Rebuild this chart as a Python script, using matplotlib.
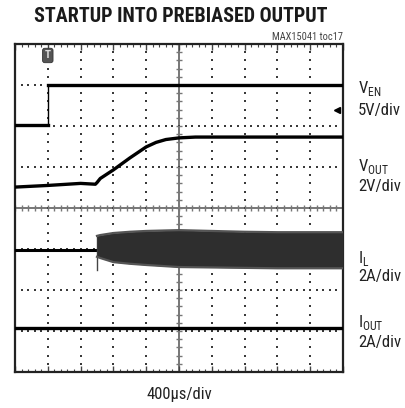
#
# plot.py - scope capture: startup into prebiased output
#
import numpy as np
import matplotlib
matplotlib.use("Agg")
import matplotlib.pyplot as plt

NARROW = ["Roboto Condensed", "Liberation Sans Narrow", "Liberation Sans", "DejaVu Sans"]
plt.rcParams["font.family"] = NARROW
plt.rcParams["mathtext.fontset"] = "custom"
plt.rcParams["mathtext.rm"] = "Roboto Condensed"

# traces, in screen divisions (x: 0..10, y: -4..4)
ven_t = [0.0, 1.0, 1.0, 10.0]
ven_v = [2.02, 2.02, 3.0, 3.0]

vout_t = [0.0, 1.0, 2.0, 2.45, 2.5, 2.6, 3.0, 3.5, 4.0, 4.3, 4.6, 5.0, 5.5, 10.0]
vout_v = [0.51, 0.55, 0.60, 0.58, 0.62, 0.72, 0.93, 1.22, 1.49, 1.60, 1.67, 1.71, 1.73, 1.73]

il_pre_t = [0.0, 2.5]
il_pre_v = [-1.02, -1.02]
il_spike = [-0.71, -1.51]
il_t = [2.5, 2.6, 3.0, 3.5, 4.0, 5.0, 6.0, 7.0, 8.0, 9.0, 10.0]
il_hi = [-0.68, -0.66, -0.61, -0.58, -0.56, -0.54, -0.56, -0.58, -0.59, -0.59, -0.59]
il_lo = [-1.19, -1.22, -1.32, -1.36, -1.39, -1.44, -1.45, -1.46, -1.47, -1.47, -1.47]

iout_t = [0.0, 10.0]
iout_v = [-2.92, -2.92]

trig_t = 1.0
ven_gnd = (9.83, 2.39)

labels = [("V$_{\\mathrm{EN}}$", 89), ("5V/div", 110),
          ("V$_{\\mathrm{OUT}}$", 166), ("2V/div", 187),
          ("I$_{\\mathrm{L}}$", 258), ("2A/div", 277),
          ("I$_{\\mathrm{OUT}}$", 322), ("2A/div", 343)]

W, H = 405, 408
fig = plt.figure(figsize=(W / 100, H / 100), dpi=100)
fig.patch.set_facecolor("white")
ax = fig.add_axes([15 / W, 1 - 372 / H, 328 / W, 328 / H])
ax.set_xlim(0, 10)
ax.set_ylim(-4, 4)

# dotted graticule
minor = np.arange(0, 10.001, 0.2)
minor_y = np.arange(-4, 4.001, 0.2)
for k in range(1, 10):
    if k == 5:
        continue
    ax.plot(np.full_like(minor_y, k), minor_y, ls="none", marker="s", ms=1.5,
            color="#3a3a3a", mew=0)
for k in range(-3, 4):
    if k == 0:
        continue
    ax.plot(minor, np.full_like(minor, k), ls="none", marker="s", ms=1.5,
            color="#3a3a3a", mew=0)

# centre cross with small ticks
ax.axvline(5, color="#777777", lw=1.4, zorder=1)
ax.axhline(0, color="#777777", lw=1.4, zorder=1)
ax.plot(np.full_like(minor_y, 5), minor_y, ls="none", marker="_", ms=5,
        color="#777777", mew=1.0)
ax.plot(minor, np.zeros_like(minor), ls="none", marker="|", ms=5,
        color="#777777", mew=1.0)

# traces
ax.plot(ven_t, ven_v, color="black", lw=1.0, zorder=3)
ax.plot(ven_t[:2], ven_v[:2], color="black", lw=2.4, zorder=3)
ax.plot(ven_t[2:], ven_v[2:], color="black", lw=2.4, zorder=3)
ax.plot(vout_t, vout_v, color="black", lw=2.4, zorder=3)
ax.plot(il_pre_t, il_pre_v, color="black", lw=2.2, zorder=3)
ax.plot([il_t[0], il_t[0]], il_spike, color="#444444", lw=1.0, zorder=3)
ax.fill_between(il_t, il_lo, il_hi, color="#2e2e2e", lw=0, zorder=3)
ax.plot(il_t, il_hi, color="#555555", lw=1.6, zorder=3)
ax.plot(il_t, il_lo, color="#555555", lw=1.6, zorder=3)
ax.plot(iout_t, iout_v, color="black", lw=2.4, zorder=3)

# markers
ax.text(trig_t, 3.72, "T", ha="center", va="center", fontsize=8,
        fontweight="bold", color="#dddddd", zorder=5,
        bbox=dict(boxstyle="round,pad=0.2", fc="#555555", ec="#333333", lw=0.6))
ax.plot(*ven_gnd, marker="<", ms=5, color="black", zorder=5)

# frame and edge ticks
for s in ax.spines.values():
    s.set_linewidth(1.6)
    s.set_color("#222222")
ax.set_xticks(np.arange(0, 11, 1))
ax.set_xticks(minor, minor=True)
ax.set_yticks([])
ax.tick_params(axis="x", which="both", direction="in", top=True, bottom=True,
               labelbottom=False, color="#444444")
ax.tick_params(axis="x", which="major", length=4, width=1.0)
ax.tick_params(axis="x", which="minor", length=2.5, width=0.8)

# text
fig.text(181 / W, 1 - 16.5 / H, "STARTUP INTO PREBIASED OUTPUT", ha="center",
         va="center", fontsize=14.4, fontweight="heavy", color="#1a1a1a")
fig.text(343 / W, 1 - 37.5 / H, "MAX15041 toc17", ha="right", va="center",
         fontsize=7.5, color="#444444")
for txt, y in labels:
    fig.text(358 / W, 1 - y / H, txt, ha="left", va="center", fontsize=12,
             color="#222222")
fig.text(179.5 / W, 1 - 395 / H, "400\u00b5s/div", ha="center", va="center",
         fontsize=12, color="#222222")

fig.savefig("out.png", dpi=100)
